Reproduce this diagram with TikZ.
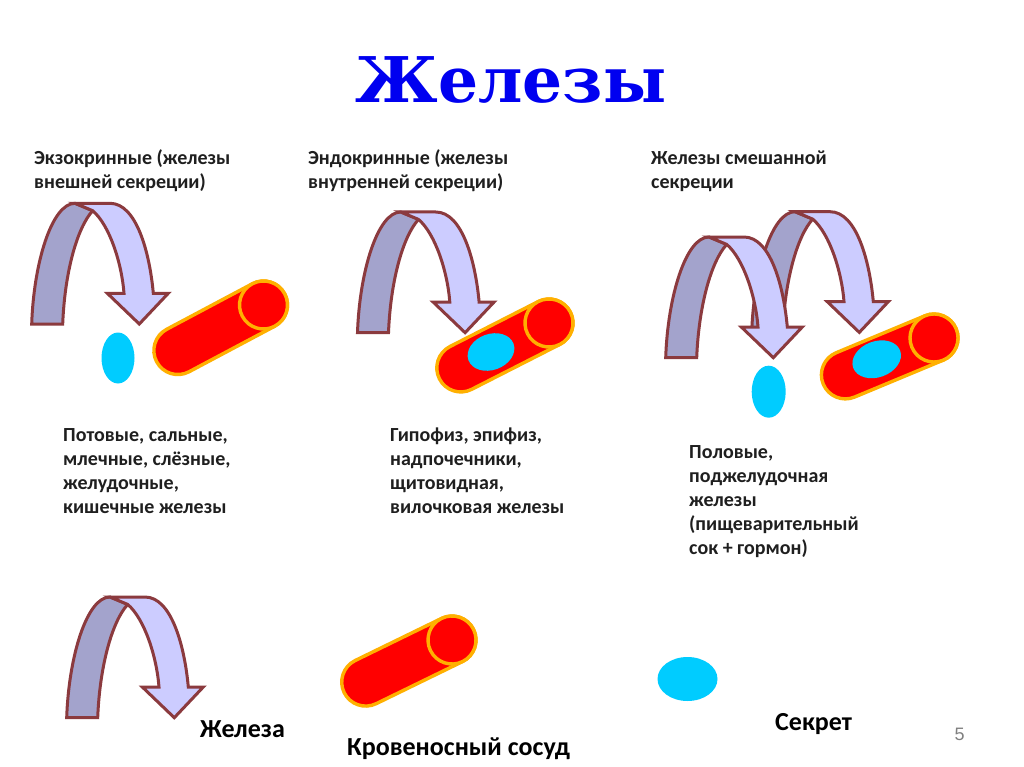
\documentclass[tikz,border=0pt]{standalone}
\usepackage{fontspec}
\setmainfont{Carlito}
\newfontfamily\titlefont{DejaVu Serif}
\newfontfamily\pagefont{Liberation Sans}
\definecolor{archline}{HTML}{8B3A3E}
\definecolor{archdark}{HTML}{A3A3CC}
\definecolor{archlight}{HTML}{CCCCFF}
\definecolor{vesselred}{HTML}{FF0000}
\definecolor{vesseledge}{HTML}{FFB000}
\definecolor{secretcol}{HTML}{00CCFF}
\definecolor{titleblue}{HTML}{0000F0}
\newcommand{\firstline}{\rule{0pt}{16pt}}
\tikzset{
  archback/.style={draw=archline,fill=archdark,line width=3pt,line join=miter},
  archfront/.style={draw=archline,fill=archlight,line width=3pt,line join=miter},
  vesselbody/.style={draw=vesseledge,fill=vesselred,line width=3.4pt},
  secret/.style={fill=secretcol,draw=none},
  bodytext/.style={font=\fontsize{20}{24}\selectfont\bfseries\color{black!88},align=left,anchor=north west,inner sep=0pt},
  legendtext/.style={font=\fontsize{26}{28}\selectfont\bfseries,anchor=base west,inner sep=0pt},
}
% x y of the top-left corner of the arrow
\newcommand{\glandarch}[2]{%
  \begin{scope}[shift={(#1,#2)}]
    \path[archback] (0,120.7) .. controls (2,60) and (20,0) .. (43.3,0) -- (61,7.4)
      .. controls (45,25) and (33,70) .. (31,120.7) -- cycle;
    \path[archfront] (43.3,0) -- (78.3,0) .. controls (105,0) and (118,50) .. (121.6,90)
      -- (136.6,90) -- (107.6,120.7) -- (75.6,90) -- (92.3,90)
      .. controls (90,60) and (78,22) .. (61,7.4) -- cycle;
  \end{scope}}
% cap centre x y, rotation, length
\newcommand{\bloodvessel}[4]{%
  \begin{scope}[shift={(#1,#2)},rotate=#3]
    \path[vesselbody] (-#4,24) arc (90:270:24) -- (0,-24) arc (-90:90:24) -- cycle;
    \path[vesselbody] (0,0) circle (24);
  \end{scope}}
\begin{document}
\begin{tikzpicture}[x=1pt,y=-1pt]
\useasboundingbox (0,0) rectangle (1024,767);
\fill[white] (0,0) rectangle (1024,767);
\node[font=\titlefont\fontsize{63}{63}\selectfont\bfseries,text=titleblue,inner sep=0pt,anchor=base] (title) at (511,103) {Железы};

\node[bodytext] (h1) at (34,148) {\firstline Экзокринные (железы\\внешней секреции)};
\node[bodytext] (h2) at (308,148) {\firstline Эндокринные (железы\\внутренней секреции)};
\node[bodytext] (h3) at (651,148) {\firstline Железы смешанной\\секреции};

\glandarch{31.7}{203.3}
\bloodvessel{263.5}{305}{28}{97}
\fill[secret] (118,358) ellipse (16.5 and 25.5);

\glandarch{357.5}{212}
\bloodvessel{549}{323}{27}{99}
\fill[secret,rotate around={20:(491,352)}] (491,352) ellipse (24 and 18);

\glandarch{751.7}{211.7}
\glandarch{665.7}{237}
\bloodvessel{934}{338}{22.6}{96}
\fill[secret,rotate around={20:(876.7,359.3)}] (876.7,359.3) ellipse (25 and 18);
\fill[secret] (768.7,391.7) ellipse (17 and 26);

\node[bodytext] (t1) at (63,425) {\firstline Потовые, сальные,\\млечные, слёзные,\\желудочные,\\кишечные железы};
\node[bodytext] (t2) at (390,425) {\firstline Гипофиз, эпифиз,\\надпочечники,\\щитовидная,\\вилочковая железы};
\node[bodytext] (t3) at (689,442) {\firstline Половые,\\поджелудочная\\железы\\(пищеварительный\\сок + гормон)};

\glandarch{66.7}{597}
\bloodvessel{452}{640}{26}{96}
\fill[secret] (687.5,679) ellipse (30 and 22);

\node[legendtext] (l1) at (200,737) {Железа};
\node[legendtext] (l2) at (347,755) {Кровеносный сосуд};
\node[legendtext] (l3) at (775,730) {Секрет};
\node[font=\pagefont\fontsize{18}{18}\selectfont,text=black!50,inner sep=0pt,anchor=base] (pg) at (959.5,740) {5};
\end{tikzpicture}
\end{document}
